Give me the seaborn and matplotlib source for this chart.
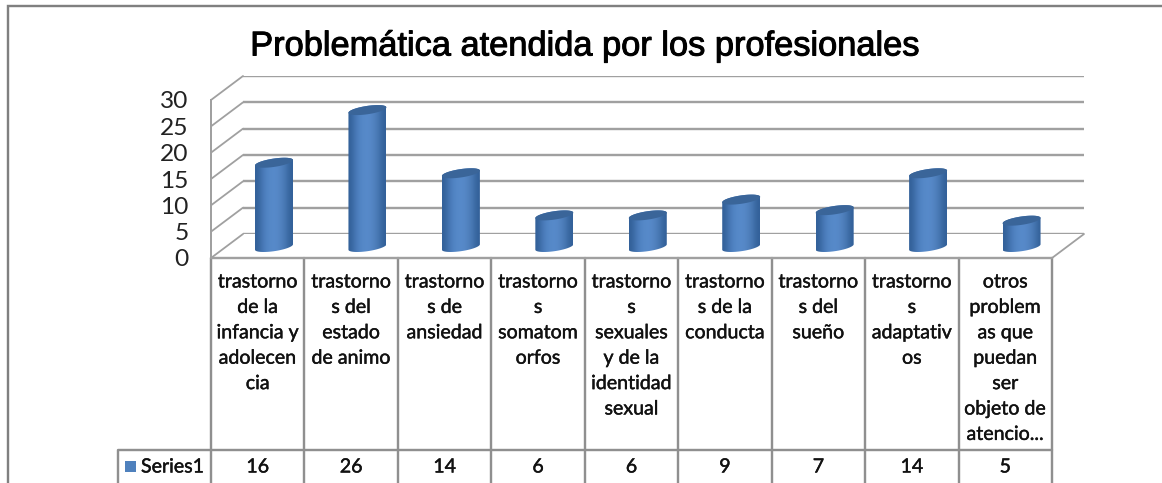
import numpy as np
import pandas as pd
import matplotlib
matplotlib.use("Agg")
import matplotlib.pyplot as plt
import matplotlib.patheffects as pe
from matplotlib.path import Path
from matplotlib.patches import PathPatch, Rectangle
import seaborn as sns

title = "Problemática atendida por los profesionales"
categories = [
    "trastorno\nde la\ninfancia y\nadolecen\ncia",
    "trastorno\ns del\nestado\nde animo",
    "trastorno\ns de\nansiedad",
    "trastorno\ns\nsomatom\norfos",
    "trastorno\ns\nsexuales\ny de la\nidentidad\nsexual",
    "trastorno\ns de la\nconducta",
    "trastorno\ns del\nsueño",
    "trastorno\ns\nadaptativ\nos",
    "otros\nproblem\nas que\npuedan\nser\nobjeto de\natencio...",
]
values = [16, 26, 14, 6, 6, 9, 7, 14, 5]
value_ticks = [0, 5, 10, 15, 20, 25, 30]
series_name = "Series1"

W, H = 1162, 483
DPI = 100
BLUE = "#4f81bd"
GREY = "#8f8f8f"
GRID = "#a0a0a0"
TXT = "#111111"
PX = 72 / DPI

sns.set_theme(style="white")
plt.rcParams["font.family"] = ["Lato", "DejaVu Sans"]

FX0, FX1, FY0, FY1 = 211, 1052, 258, 100      # front plane
BX0, BX1, BY0, BY1 = 243, 1084, 234, 76       # back wall
STEP = (FX1 - FX0) / len(values)
TAB_H = 450
LEG_X = 118
semi = [pe.withStroke(linewidth=0.3, foreground=TXT)]


def px_axes(fig, x0, x1, ybottom, ytop):
    return fig.add_axes([x0 / W, 1 - ybottom / H, (x1 - x0) / W, (ybottom - ytop) / H])


fig = plt.figure(figsize=(W / DPI, H / DPI), dpi=DPI, facecolor="white")

# chrome in pixel space
bg = fig.add_axes([0, 0, 1, 1])
bg.set_xlim(0, W)
bg.set_ylim(H, 0)
bg.axis("off")
bg.plot([W, 8, 8], [6, 6, H], color="#808080", lw=2.4 * PX, solid_joinstyle="miter")

fy = lambda v: FY0 + (FY1 - FY0) * v / 30
by = lambda v: BY0 + (BY1 - BY0) * v / 30
for v in value_ticks:
    bg.plot([FX0, BX0], [fy(v), by(v)], color=GRID, lw=1.8 * PX)
bg.plot([FX1, BX1], [fy(0), by(0)], color=GRID, lw=1.8 * PX)

# back wall value gridlines
back = px_axes(fig, BX0, BX1, BY0, BY1)
back.patch.set_alpha(0)
back.set_ylim(0, 30)
back.set_yticks(value_ticks)
back.set_xticks([])
back.set_yticklabels([])
back.grid(axis="y", color=GRID, lw=2.4 * PX)
back.tick_params(length=0)
sns.despine(ax=back, left=True, bottom=True)

# front wall: value axis
front = px_axes(fig, FX0, FX1, FY0, FY1)
front.patch.set_alpha(0)
front.set_ylim(0, 30)
front.set_yticks(value_ticks)
front.set_xticks([])
front.tick_params(axis="y", length=0, pad=16, labelsize=24.5 * PX, labelcolor="#222222")
sns.despine(ax=front, top=True, right=True, bottom=True)
front.spines["left"].set_color(GRID)
front.spines["left"].set_linewidth(2.0 * PX)

# cylinders
BASE_Y = 247
SCALE = (FY0 - FY1) / 30
BELOW = 2.0
ax = px_axes(fig, FX0 + 63 - STEP / 2, FX0 + 63 - STEP / 2 + STEP * len(values),
             BASE_Y + BELOW * SCALE, BASE_Y - SCALE * 30)
ax.patch.set_alpha(0)
df = pd.DataFrame({"categoria": categories, "valor": values})
sns.barplot(data=df, x="categoria", y="valor", color=BLUE, width=38 / STEP, saturation=1, ax=ax)
ax.axis("off")

grad = np.array([(0.20, 0.38, 0.60), (0.27, 0.46, 0.70), (0.32, 0.52, 0.77), (0.34, 0.54, 0.79),
                 (0.34, 0.54, 0.79), (0.32, 0.51, 0.75), (0.27, 0.46, 0.69), (0.20, 0.38, 0.60)])[None, :, :]
ux, uy = 1 / STEP, 1 / SCALE


def ellipse(cx, cy, rx, n=60, a0=0.0, a1=2 * np.pi):
    t = np.linspace(a0, a1, n)
    return np.c_[cx + rx * np.cos(t), cy + (2.7 * uy) * np.cos(t) + (4.2 * uy) * np.sin(t)]


for bar in list(ax.patches):
    x0, w, h = bar.get_x(), bar.get_width(), bar.get_height()
    cx, rx = x0 + w / 2, w / 2
    bar.set_facecolor("none")
    bar.set_edgecolor("none")
    lower = ellipse(cx, 0, rx, a0=np.pi, a1=2 * np.pi)
    upper = ellipse(cx, h, rx, a0=0, a1=np.pi)
    verts = np.r_[lower, upper, lower[:1]]
    codes = [Path.MOVETO] + [Path.LINETO] * (len(verts) - 2) + [Path.CLOSEPOLY]
    body = PathPatch(Path(verts, codes), transform=ax.transData, fc="none", ec="none")
    ax.add_patch(body)
    im = ax.imshow(grad, extent=[x0, x0 + w, -2, h + 2], aspect="auto", interpolation="bicubic", zorder=2)
    im.set_clip_path(body)
    cap = ellipse(cx, h, rx)
    ax.add_patch(PathPatch(Path(np.r_[cap, cap[:1]]), fc="#3a6599", ec="none", zorder=3))
ax.set_xlim(-0.5, len(values) - 0.5)
ax.set_ylim(-BELOW, 30)

# data table
for i in range(len(values) + 1):
    x = FX0 + i * STEP
    bg.plot([x, x], [FY0, H], color=GREY, lw=2.4 * PX, zorder=5)
bg.plot([FX0, FX1], [FY0, FY0], color=GRID, lw=2.4 * PX, zorder=5)
bg.plot([LEG_X, LEG_X, FX1], [H, TAB_H, TAB_H], color=GREY, lw=2.4 * PX, zorder=5)
for i, (cat, val) in enumerate(zip(categories, values)):
    xc = FX0 + (i + 0.5) * STEP
    bg.text(xc, 273.5, cat, ha="center", va="top", fontsize=19.6 * PX, color=TXT,
            linespacing=1.6, zorder=6, path_effects=semi)
    bg.text(xc, 467, str(val), ha="center", va="center", fontsize=19.6 * PX, color=TXT,
            zorder=6, path_effects=semi)
bg.add_patch(Rectangle((125, 461), 11, 11, fc=BLUE, ec="none", zorder=6))
bg.text(141, 467, series_name, ha="left", va="center", fontsize=19.6 * PX, color=TXT,
        zorder=6, path_effects=semi)

bg.text(585.5, 47, title, ha="center", va="center", fontsize=34.4 * PX, color="black",
        family="Liberation Sans", zorder=6,
        path_effects=[pe.withStroke(linewidth=0.7, foreground="black")])

fig.savefig("out.png", dpi=DPI, facecolor="white")
